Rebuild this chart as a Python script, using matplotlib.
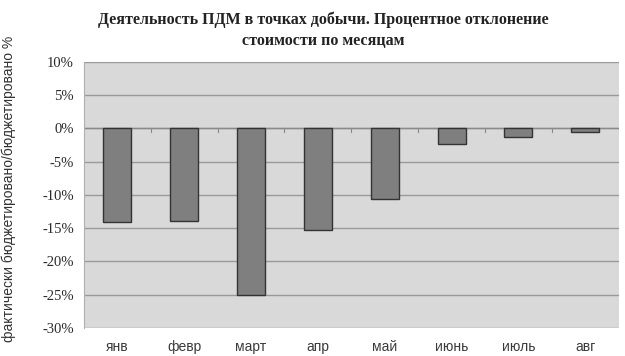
import matplotlib.pyplot as plt
from matplotlib.ticker import FuncFormatter

months = ['янв', 'февр', 'март', 'апр', 'май', 'июнь', 'июль', 'авг']
deviation = [-14.0, -13.9, -25.0, -15.3, -10.6, -2.4, -1.3, -0.6]
y_ticks = [10, 5, 0, -5, -10, -15, -20, -25, -30]

fig = plt.figure(figsize=(6.25, 3.56), dpi=100)
ax = fig.add_axes([0.134, 0.079, 0.856, 0.747])
ax.set_facecolor('#d9d9d9')

x = range(len(months))
ax.bar(x, deviation, width=0.42, color='#7f7f7f', edgecolor='#333333',
       linewidth=1.0, zorder=3)

ax.set_ylim(-30, 10)
ax.set_xlim(-0.5, len(months) - 0.5)
ax.set_yticks(y_ticks)
ax.yaxis.set_major_formatter(FuncFormatter(lambda v, p: f'{v:.0f}%'))
ax.grid(axis='y', color='#9a9a9a', linewidth=1.0, zorder=1)
ax.axhline(0, color='#8a8a8a', linewidth=1.0, zorder=2)

# small separator ticks on the zero line between months
for b in [i + 0.5 for i in range(len(months) - 1)]:
    ax.plot([b, b], [0, -0.5], color='#8a8a8a', linewidth=0.8, zorder=2)

ax.set_xticks(list(x))
ax.set_xticklabels(months, family='Liberation Sans', fontsize=10, color='#3a3a3a')
for lbl in ax.get_yticklabels():
    lbl.set_family('Liberation Serif')
    lbl.set_fontsize(10.5)
    lbl.set_color('#2a2a2a')
ax.tick_params(axis='x', length=0, pad=9)
ax.tick_params(axis='y', length=0, pad=7)
for s in ax.spines.values():
    s.set_visible(False)
ax.plot([-0.5, -0.5], [-30, 10], color='#b0b0b0', linewidth=0.8, clip_on=False)

fig.text(0.014, 0.47, 'фактически бюджетировано/бюджетировано %', rotation=90,
         ha='center', va='center', family='Liberation Sans', fontsize=10,
         color='#333333')
fig.text(0.517, 0.915, 'Деятельность ПДМ в точках добычи. Процентное отклонение\nстоимости по месяцам',
         ha='center', va='center', family='Liberation Serif', fontweight='bold',
         fontsize=11.5, color='#222222', linespacing=1.4)

fig.savefig('out.png', dpi=100)
